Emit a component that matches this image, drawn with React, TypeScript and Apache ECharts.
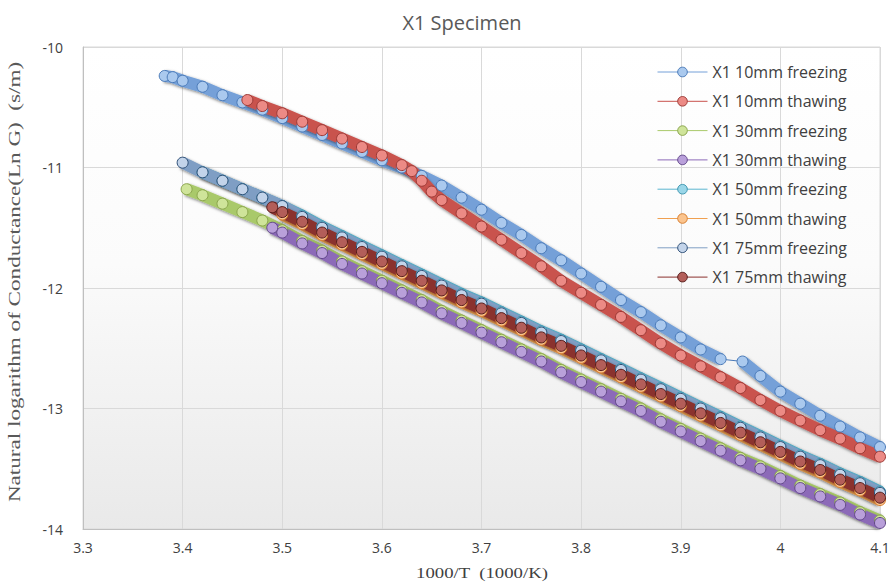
import React, { useEffect, useRef } from "react";
import * as echarts from "echarts";

const TITLE = "X1 Specimen";
const X_NAME = "1000/T  (1000/K)";
const Y_NAME = "Natural logarithm of Conductance(Ln G)  (s/m)";
const X_MIN = 3.3, X_MAX = 4.1, X_STEP = 0.1;
const Y_MIN = -14, Y_MAX = -10, Y_STEP = 1;

const NAMES = [
  "X1 10mm freezing", "X1 10mm thawing", "X1 30mm freezing", "X1 30mm thawing",
  "X1 50mm freezing", "X1 50mm thawing", "X1 75mm freezing", "X1 75mm thawing",
];

const s10f: (number | string)[][] = [
  [3.382,-10.24],[3.39,-10.25],[3.40,-10.28],[3.42,-10.33],[3.44,-10.40],[3.46,-10.46],[3.48,-10.52],
  [3.50,-10.59],[3.52,-10.66],[3.54,-10.73],[3.56,-10.80],[3.58,-10.87],[3.60,-10.94],[3.62,-11.00],
  [3.64,-11.07],[3.66,-11.15],[3.68,-11.25],[3.70,-11.35],[3.72,-11.46],[3.74,-11.56],[3.76,-11.67],
  [3.78,-11.77],[3.80,-11.88],[3.82,-11.99],[3.84,-12.10],[3.86,-12.20],[3.88,-12.31],[3.90,-12.41],
  [3.92,-12.51],[3.94,-12.59],[3.95,"-"],[3.962,-12.61],[3.98,-12.73],[4.00,-12.86],[4.02,-12.96],
  [4.04,-13.06],[4.06,-13.15],[4.08,-13.24],[4.10,-13.32],
];
// thin connector across the gap in the 10mm freezing record
const s10fGap: number[][] = [[3.94,-12.59],[3.962,-12.61]];
const s10t: number[][] = [
  [3.465,-10.44],[3.48,-10.49],[3.50,-10.55],[3.52,-10.62],[3.54,-10.69],[3.56,-10.76],[3.58,-10.83],
  [3.60,-10.90],[3.62,-10.98],[3.63,-11.03],[3.64,-11.11],[3.65,-11.20],[3.66,-11.27],[3.68,-11.38],
  [3.70,-11.49],[3.72,-11.60],[3.74,-11.71],[3.76,-11.82],[3.78,-11.94],[3.80,-12.04],[3.82,-12.14],
  [3.84,-12.24],[3.86,-12.35],[3.88,-12.46],[3.90,-12.56],[3.92,-12.65],[3.94,-12.74],[3.96,-12.83],
  [3.98,-12.93],[4.00,-13.02],[4.02,-13.10],[4.04,-13.18],[4.06,-13.25],[4.08,-13.33],[4.10,-13.40],
];
const s30f: number[][] = [
  [3.404,-11.18],[3.42,-11.23],[3.44,-11.30],[3.46,-11.37],[3.48,-11.44],[3.50,-11.52],[3.52,-11.61],
  [3.54,-11.69],[3.56,-11.78],[3.58,-11.86],[3.60,-11.94],[3.62,-12.02],[3.64,-12.10],[3.66,-12.19],
  [3.68,-12.27],[3.70,-12.35],[3.72,-12.43],[3.74,-12.51],[3.76,-12.59],[3.78,-12.68],[3.80,-12.76],
  [3.82,-12.84],[3.84,-12.92],[3.86,-13.00],[3.88,-13.09],[3.90,-13.17],[3.92,-13.25],[3.94,-13.33],
  [3.96,-13.41],[3.98,-13.48],[4.00,-13.56],[4.02,-13.64],[4.04,-13.71],[4.06,-13.78],[4.08,-13.86],
  [4.10,-13.93],
];
const s30t: number[][] = [
  [3.49,-11.50],[3.50,-11.54],[3.52,-11.63],[3.54,-11.71],[3.56,-11.80],[3.58,-11.88],[3.60,-11.96],
  [3.62,-12.04],[3.64,-12.12],[3.66,-12.21],[3.68,-12.29],[3.70,-12.37],[3.72,-12.45],[3.74,-12.53],
  [3.76,-12.61],[3.78,-12.70],[3.80,-12.78],[3.82,-12.86],[3.84,-12.94],[3.86,-13.02],[3.88,-13.11],
  [3.90,-13.19],[3.92,-13.27],[3.94,-13.35],[3.96,-13.43],[3.98,-13.50],[4.00,-13.58],[4.02,-13.66],
  [4.04,-13.73],[4.06,-13.80],[4.08,-13.88],[4.10,-13.95],
];
const s50f: number[][] = [
  [3.42,-11.04],[3.44,-11.11],[3.46,-11.18],[3.48,-11.25],[3.50,-11.32],[3.52,-11.40],
  [3.54,-11.49],[3.56,-11.57],[3.58,-11.65],[3.60,-11.73],[3.62,-11.81],[3.64,-11.89],[3.66,-11.97],
  [3.68,-12.05],[3.70,-12.12],[3.72,-12.20],[3.74,-12.28],[3.76,-12.36],[3.78,-12.43],[3.80,-12.51],
  [3.82,-12.59],[3.84,-12.67],[3.86,-12.75],[3.88,-12.83],[3.90,-12.91],[3.92,-12.99],[3.94,-13.07],
  [3.96,-13.15],[3.98,-13.23],[4.00,-13.31],[4.02,-13.39],[4.04,-13.46],[4.06,-13.54],[4.08,-13.61],
  [4.10,-13.69],
];
const s50t: number[][] = [
  [3.50,-11.39],[3.52,-11.47],[3.54,-11.56],[3.56,-11.64],[3.58,-11.72],[3.60,-11.80],[3.62,-11.88],
  [3.64,-11.96],[3.66,-12.04],[3.68,-12.12],[3.70,-12.19],[3.72,-12.27],[3.74,-12.35],[3.76,-12.43],
  [3.78,-12.50],[3.80,-12.58],[3.82,-12.66],[3.84,-12.74],[3.86,-12.82],[3.88,-12.90],[3.90,-12.98],
  [3.92,-13.06],[3.94,-13.14],[3.96,-13.22],[3.98,-13.30],[4.00,-13.38],[4.02,-13.46],[4.04,-13.53],
  [4.06,-13.61],[4.08,-13.68],[4.10,-13.76],
];
const s75f: number[][] = [
  [3.40,-10.96],[3.42,-11.04],[3.44,-11.11],[3.46,-11.18],[3.48,-11.25],[3.50,-11.32],[3.52,-11.41],
  [3.54,-11.50],[3.56,-11.58],[3.58,-11.66],[3.60,-11.74],[3.62,-11.82],[3.64,-11.90],[3.66,-11.98],
  [3.68,-12.06],[3.70,-12.13],[3.72,-12.21],[3.74,-12.29],[3.76,-12.37],[3.78,-12.44],[3.80,-12.52],
  [3.82,-12.60],[3.84,-12.68],[3.86,-12.76],[3.88,-12.84],[3.90,-12.92],[3.92,-13.00],[3.94,-13.08],
  [3.96,-13.16],[3.98,-13.24],[4.00,-13.32],[4.02,-13.40],[4.04,-13.47],[4.06,-13.55],[4.08,-13.62],
  [4.10,-13.70],
];
const s75t: number[][] = [
  [3.49,-11.33],[3.50,-11.37],[3.52,-11.45],[3.54,-11.54],[3.56,-11.62],[3.58,-11.70],[3.60,-11.78],
  [3.62,-11.86],[3.64,-11.94],[3.66,-12.02],[3.68,-12.10],[3.70,-12.17],[3.72,-12.25],[3.74,-12.33],
  [3.76,-12.41],[3.78,-12.48],[3.80,-12.56],[3.82,-12.64],[3.84,-12.72],[3.86,-12.80],[3.88,-12.88],
  [3.90,-12.96],[3.92,-13.04],[3.94,-13.12],[3.96,-13.20],[3.98,-13.28],[4.00,-13.36],[4.02,-13.44],
  [4.04,-13.51],[4.06,-13.59],[4.08,-13.66],[4.10,-13.74],
];

const SERIES_DATA = [s10f, s10t, s30f, s30t, s50f, s50t, s75f, s75t];

// [line colour, marker fill, marker border]
const STYLES = [
  ["#74a0d8", "#aac9ee", "#4a7ab8"],
  ["#c9524d", "#ec8a85", "#9c3a36"],
  ["#a9c96a", "#cfe49a", "#8aa54c"],
  ["#8c6ab8", "#b9a0da", "#62478a"],
  ["#5bb5d0", "#9ad6e8", "#3a95af"],
  ["#f0a050", "#fbc48e", "#d87f30"],
  ["#7f9ec4", "#c3d4ea", "#2c4d75"],
  ["#8a302d", "#b35e59", "#561b19"],
];

export default function App() {
  const ref = useRef<HTMLDivElement>(null);
  useEffect(() => {
    if (!ref.current) return;
    const chart = echarts.init(ref.current, null, { renderer: "svg" });
    const series: any[] = NAMES.map((name, i) => ({
      name,
      type: "line",
      data: SERIES_DATA[i],
      symbol: "circle",
      symbolSize: 11,
      showSymbol: true,
      connectNulls: false,
      lineStyle: {
        color: STYLES[i][0],
        width: 12,
        shadowColor: "rgba(0,0,0,0.5)",
        shadowBlur: 3,
        shadowOffsetY: 1,
      },
      itemStyle: {
        color: STYLES[i][1],
        borderColor: STYLES[i][2],
        borderWidth: 1,
      },
      emphasis: { disabled: true },
      z: 2,
    }));
    series.splice(1, 0, {
      name: "gap",
      type: "line",
      data: s10fGap,
      symbol: "none",
      lineStyle: { color: STYLES[0][2], width: 1 },
      emphasis: { disabled: true },
      silent: true,
      z: 2,
    });
    chart.setOption({
      animation: false,
      backgroundColor: "#ffffff",
      title: {
        text: TITLE,
        left: 457,
        top: 7,
        textAlign: "center",
        textStyle: { fontFamily: "Open Sans", fontSize: 20, fontWeight: "normal", color: "#595959" },
      },
      graphic: [
        {
          type: "text",
          x: 14,
          y: 282,
          rotation: Math.PI / 2,
          scaleX: 1.36,
          style: {
            text: Y_NAME,
            font: "17px 'Liberation Serif'",
            fill: "#595959",
            align: "center",
            verticalAlign: "middle",
          },
        },
        {
          type: "text",
          x: 482,
          y: 573,
          scaleX: 1.25,
          style: {
            text: X_NAME,
            font: "15px 'Liberation Serif'",
            fill: "#404040",
            align: "center",
            verticalAlign: "middle",
          },
        },
      ],
      grid: {
        left: 83,
        right: 16,
        top: 47,
        bottom: 54,
        show: true,
        borderColor: "#d9d9d9",
        borderWidth: 1,
        backgroundColor: new echarts.graphic.LinearGradient(0, 0, 0, 1, [
          { offset: 0, color: "#ffffff" },
          { offset: 0.45, color: "#fbfbfb" },
          { offset: 1, color: "#e9e9e9" },
        ]),
      },
      legend: {
        orient: "vertical",
        left: 652,
        top: 59,
        itemWidth: 50,
        itemHeight: 12,
        itemGap: 13.3,
        data: NAMES,
        lineStyle: { width: 1, shadowBlur: 0, shadowColor: "transparent", shadowOffsetY: 0 },
        itemStyle: { borderWidth: 1 },
        textStyle: { fontFamily: "Open Sans", fontSize: 16, color: "#404040", lineHeight: 14 },
      },
      xAxis: {
        type: "value",
        min: X_MIN,
        max: X_MAX,
        interval: X_STEP,
        axisLine: { show: true, lineStyle: { color: "#bfbfbf" } },
        axisTick: { show: false },
        splitLine: { show: true, lineStyle: { color: "#d9d9d9" } },
        axisLabel: {
          margin: 11,
          fontFamily: "Open Sans",
          fontSize: 14,
          color: "#404040",
          formatter: (v: number) => String(Number(v.toFixed(1))),
        },
      },
      yAxis: {
        type: "value",
        min: Y_MIN,
        max: Y_MAX,
        interval: Y_STEP,
        axisLine: { show: true, lineStyle: { color: "#bfbfbf" } },
        axisTick: { show: false },
        splitLine: { show: true, lineStyle: { color: "#d9d9d9" } },
        axisLabel: { margin: 20, fontFamily: "Open Sans", fontSize: 14, color: "#404040" },
      },
      series,
    });
    return () => chart.dispose();
  }, []);
  return (
    <div
      ref={ref}
      style={{ position: "fixed", left: 0, top: 0, width: 896, height: 583 }}
    />
  );
}
